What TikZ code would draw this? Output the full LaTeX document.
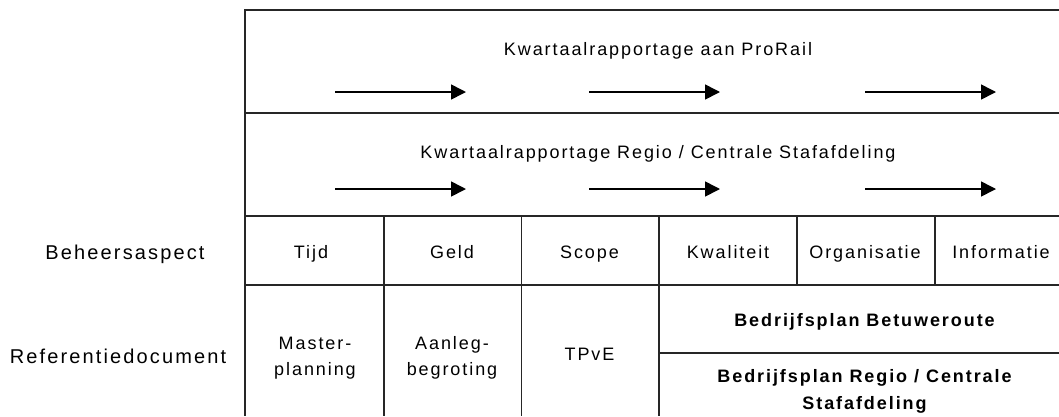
\documentclass[tikz,border=0pt]{standalone}
\usepackage{fontspec}
\setmainfont{Liberation Sans}[LetterSpace=10.7]
\usetikzlibrary{arrows.meta}
\begin{document}
\begin{tikzpicture}[x=1pt,y=-1pt,
  grid/.style={line width=1.3pt, draw=black!85},
  lbl/.style={font=\fontsize{18}{26}\selectfont, align=center, inner sep=0pt, anchor=base},
  side/.style={lbl, font=\fontsize{20}{26}\selectfont},
  bl/.style={lbl, font=\fontsize{18}{27}\selectfont\bfseries},
  flow/.style={line width=1.6pt, -{Triangle[length=15pt,width=15pt]}}]
\useasboundingbox (0,0) rectangle (1059,416);
% table lines
\draw[grid] (1059,10) -- (245,10) -- (245,416);
\draw[grid] (245,113) -- (1059,113);
\draw[grid] (245,216) -- (1059,216);
\draw[grid] (245,285) -- (1059,285);
\foreach \x in {384,521.5,659} \draw[grid] (\x,216) -- (\x,416);
\foreach \x in {797,935} \draw[grid] (\x,216) -- (\x,285);
\draw[grid] (659,353) -- (1059,353);
% row titles
\node[lbl] (prorail) at (658,55) {Kwartaalrapportage aan ProRail};
\node[lbl] (regio) at (658,158) {Kwartaalrapportage Regio / Centrale Stafafdeling};
% arrows
\foreach \i/\xa/\xb in {1/335/466, 2/589/720, 3/865/996} {
  \coordinate (pa\i) at (\xa,92);
  \coordinate (pb\i) at (\xb,92);
  \draw[flow] (pa\i) -- (pb\i);
  \coordinate (ra\i) at (\xa,189);
  \coordinate (rb\i) at (\xb,189);
  \draw[flow] (ra\i) -- (rb\i);
}
% side labels
\node[side] (beheer) at (125,259) {Beheersaspect};
\node[side] (refdoc) at (118,363) {Referentiedocument};
% aspects
\node[lbl] (tijd) at (311,258) {Tijd};
\node[lbl] (geld) at (452,258) {Geld};
\node[lbl] (scope) at (589.5,258) {Scope};
\node[lbl] (kwal) at (728,258) {Kwaliteit};
\node[lbl] (org) at (865,258) {Organisatie};
\node[lbl] (info) at (1001,258) {Informatie};
% documents
\node[lbl] (master) at (315,375) {Master-\\planning};
\node[lbl] (aanleg) at (452,375) {Aanleg-\\begroting};
\node[lbl] (tpve) at (589.5,360) {TPvE};
\node[bl] (bbetuwe) at (864.5,326) {Bedrijfsplan Betuweroute};
\node[bl] (bregio) at (864.5,409) {Bedrijfsplan Regio / Centrale\\Stafafdeling};
\end{tikzpicture}
\end{document}
